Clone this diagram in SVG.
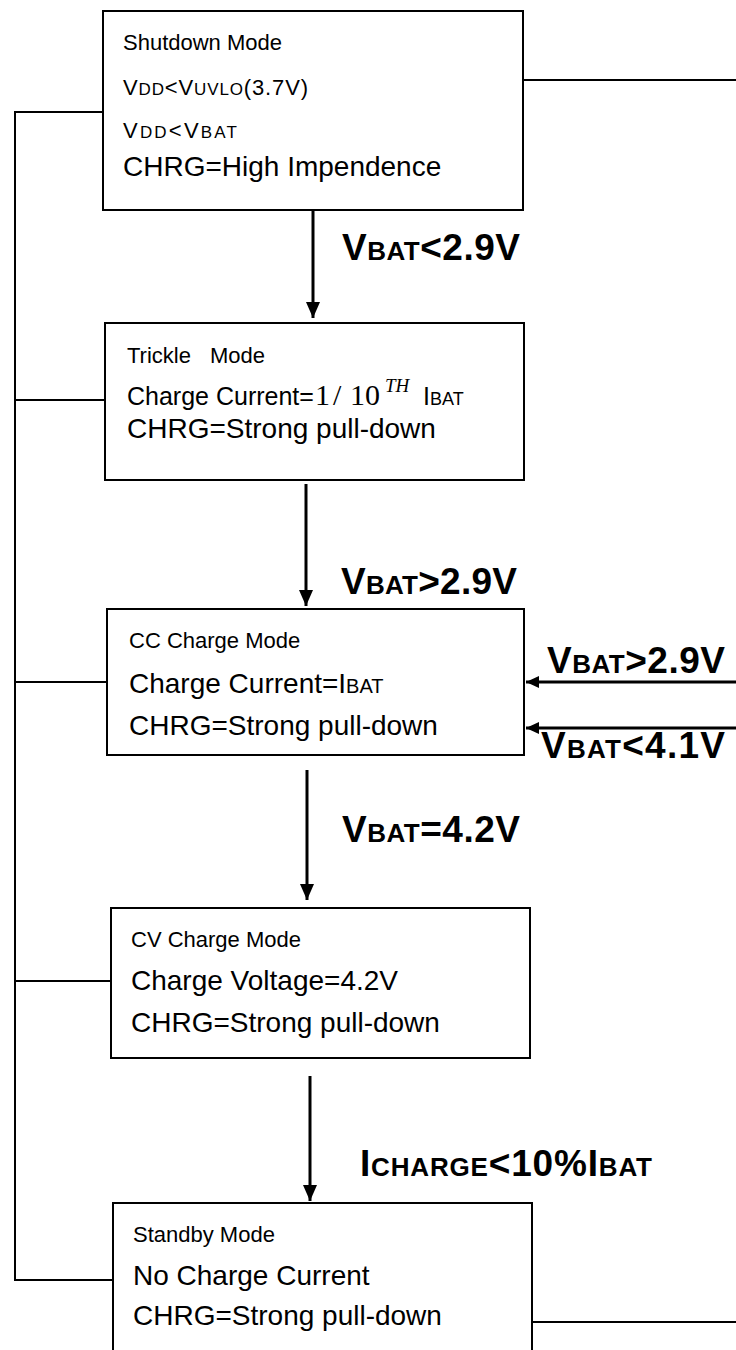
<svg xmlns="http://www.w3.org/2000/svg" width="736" height="1350" viewBox="0 0 736 1350">
<style>
.box{fill:#fff;stroke:#000;stroke-width:2}
.ln{fill:none;stroke:#000;stroke-width:2}
.ar{fill:none;stroke:#000;stroke-width:3}
.t{font-family:"Liberation Sans",Arial,sans-serif;fill:#000}
.s{font-size:22px}
.b{font-size:28px}
.m{font-family:"Liberation Serif","Times New Roman",serif;font-size:30px}
.lb{font-family:"Liberation Sans",Arial,sans-serif;font-size:37px;font-weight:bold;fill:#000}
</style>
<defs>
<marker id="ah" markerUnits="userSpaceOnUse" markerWidth="16" markerHeight="14" refX="16" refY="7" orient="auto">
<path d="M0,0 L16,7 L0,14 z" fill="#000"/>
</marker>
<marker id="ahs" markerUnits="userSpaceOnUse" markerWidth="13" markerHeight="12" refX="13" refY="6" orient="auto">
<path d="M0,0 L13,6 L0,12 z" fill="#000"/>
</marker>
</defs>
<rect width="736" height="1350" fill="#fff"/>

<g id="connectors">
<polyline class="ln" points="103,112 15,112 15,1280 113,1280"/>
<line class="ln" x1="15" y1="400" x2="105" y2="400"/>
<line class="ln" x1="15" y1="682" x2="107" y2="682"/>
<line class="ln" x1="15" y1="981" x2="111" y2="981"/>
<line class="ln" x1="523" y1="80" x2="736" y2="80"/>
<line class="ln" x1="532" y1="1322" x2="736" y2="1322"/>
<line class="ar" x1="313" y1="210" x2="313" y2="318" marker-end="url(#ah)"/>
<line class="ar" x1="306" y1="484" x2="306" y2="606" marker-end="url(#ah)"/>
<line class="ar" x1="307" y1="770" x2="307" y2="900" marker-end="url(#ah)"/>
<line class="ar" x1="310" y1="1076" x2="310" y2="1201" marker-end="url(#ah)"/>
<line class="ar" x1="736" y1="682" x2="526" y2="682" marker-end="url(#ahs)"/>
<line class="ar" x1="736" y1="728" x2="526" y2="728" marker-end="url(#ahs)"/>
<text class="lb" x="342" y="260" textLength="178">V<tspan font-size="26">BAT</tspan>&lt;2.9V</text>
<text class="lb" x="341" y="594" textLength="176">V<tspan font-size="26">BAT</tspan>&gt;2.9V</text>
<text class="lb" x="342" y="842" textLength="178">V<tspan font-size="26">BAT</tspan>=4.2V</text>
<text class="lb" x="360" y="1176" textLength="292">I<tspan font-size="26">CHARGE</tspan>&lt;10%I<tspan font-size="26">BAT</tspan></text>
<text class="lb" x="547" y="673" textLength="178">V<tspan font-size="26">BAT</tspan>&gt;2.9V</text>
<text class="lb" x="541" y="758" textLength="184">V<tspan font-size="26">BAT</tspan>&lt;4.1V</text>
</g>

<g id="shutdown">
<rect class="box" x="103" y="11" width="420" height="199"/>
<text class="t s" x="123" y="50">Shutdown Mode</text>
<text class="t s" x="123" y="95" textLength="185">V<tspan font-size="17">DD</tspan>&lt;V<tspan font-size="17">UVLO</tspan>(3.7V)</text>
<text class="t s" x="123" y="138" textLength="114">V<tspan font-size="17">DD</tspan>&lt;V<tspan font-size="17">BAT</tspan></text>
<text class="t b" x="123" y="176">CHRG=High Impendence</text>
</g>

<g id="trickle">
<rect class="box" x="105" y="323" width="419" height="157"/>
<text class="t s" x="127" y="363">Trickle<tspan x="210">Mode</tspan></text>
<text class="t" x="127" y="405" font-size="25">Charge Current=</text>
<text class="m" x="315" y="405">1<tspan x="333">/</tspan><tspan x="350">10</tspan><tspan x="385" y="392" font-size="19" font-style="italic">TH</tspan></text>
<text class="t" x="423" y="405" font-size="25">I<tspan font-size="18">BAT</tspan></text>
<text class="t b" x="127" y="438">CHRG=Strong pull-down</text>
</g>

<g id="cc">
<rect class="box" x="107" y="609" width="417" height="146"/>
<text class="t s" x="129" y="648">CC Charge Mode</text>
<text class="t b" x="129" y="693">Charge Current=I<tspan font-size="20">BAT</tspan></text>
<text class="t b" x="129" y="735">CHRG=Strong pull-down</text>
</g>

<g id="cv">
<rect class="box" x="111" y="908" width="419" height="150"/>
<text class="t s" x="131" y="947">CV Charge Mode</text>
<text class="t b" x="131" y="990">Charge Voltage=4.2V</text>
<text class="t b" x="131" y="1032">CHRG=Strong pull-down</text>
</g>

<g id="standby">
<rect class="box" x="113" y="1203" width="419" height="160"/>
<text class="t s" x="133" y="1242">Standby Mode</text>
<text class="t b" x="133" y="1285">No Charge Current</text>
<text class="t b" x="133" y="1325">CHRG=Strong pull-down</text>
</g>
</svg>
